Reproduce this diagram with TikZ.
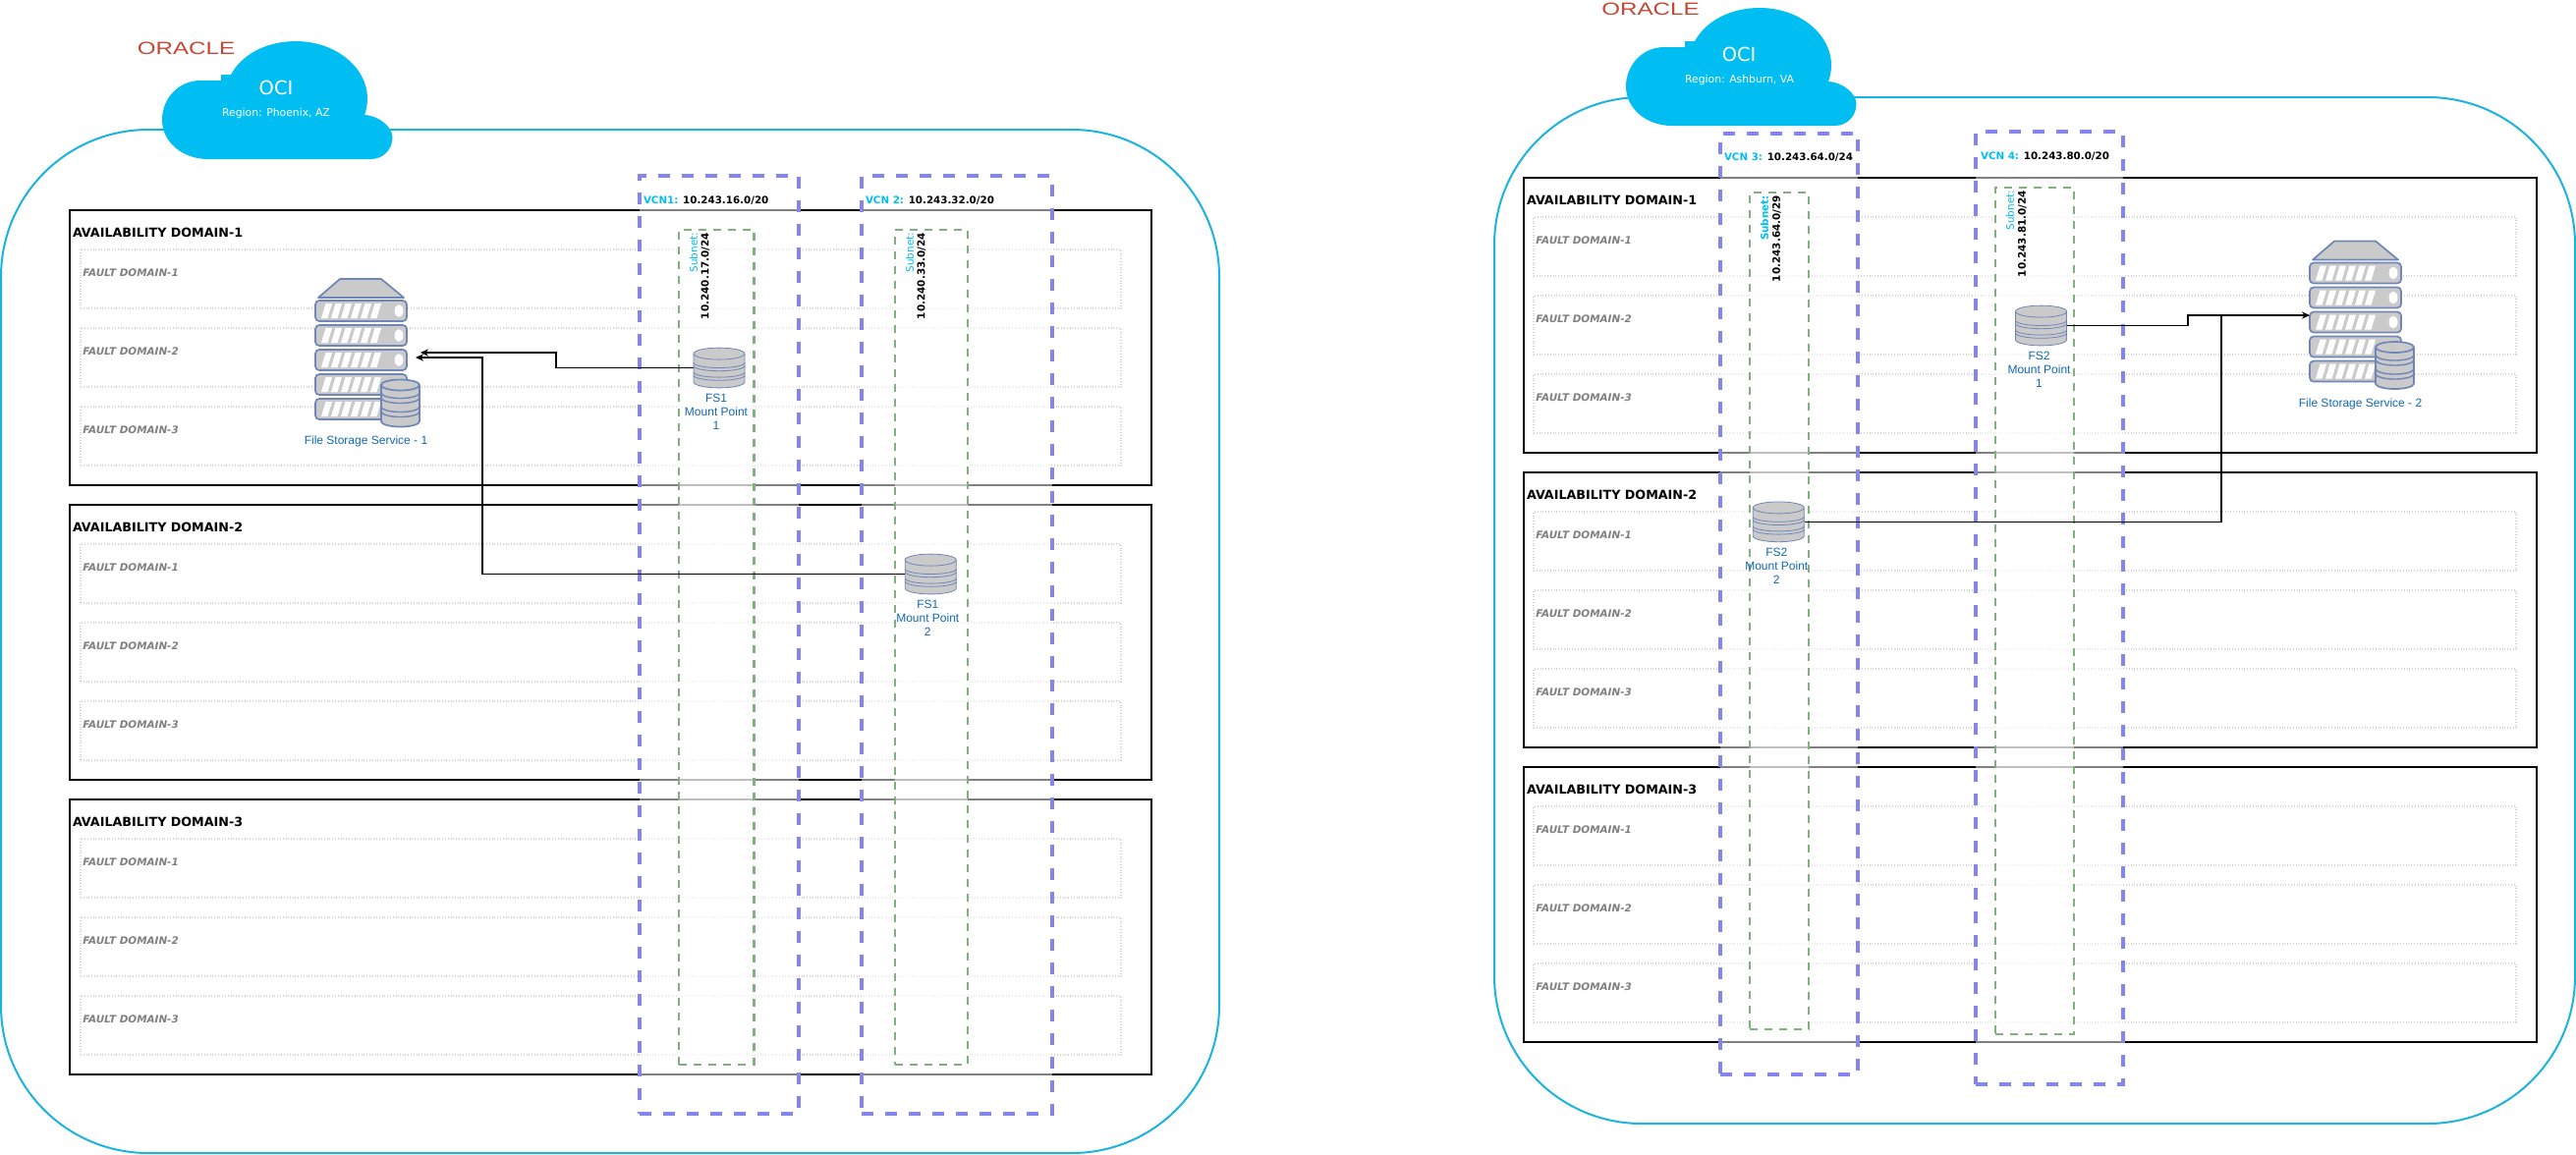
\documentclass[tikz,border=0pt]{standalone}
\usepackage{fontspec}
\setmainfont{DejaVu Sans}
\newfontfamily\arialfont{Liberation Sans}
\usetikzlibrary{arrows.meta, positioning}

\definecolor{ocicyan}{HTML}{00BEF2}
\definecolor{regionline}{HTML}{1CB4DF}
\definecolor{vcnline}{HTML}{8585F2}
\definecolor{subnetline}{HTML}{82B07F}
\definecolor{iconline}{HTML}{7086B8}
\definecolor{iconfill}{HTML}{CACACA}
\definecolor{mountblue}{HTML}{1268B3}
\definecolor{oraclered}{HTML}{C74634}

\begin{document}
\begin{tikzpicture}[
    x=0.5pt, y=-0.5pt,
    every node/.style={inner sep=0pt, outer sep=0pt},
    regionbox/.style={draw=regionline, line width=1pt, rounded corners=75pt},
    adbox/.style={draw=black, line width=1pt},
    phxad/.style={adbox, minimum width=550.5pt, minimum height=140pt},
    ashad/.style={adbox, minimum width=515.5pt, minimum height=140pt},
    adlabel/.style={font=\fontsize{6.35}{7}\selectfont\bfseries, anchor=west, xshift=1.5pt, yshift=-11.5pt},
    faultbox/.style={draw=black!17, line width=0.6pt, dash pattern=on 0.5pt off 0.9pt, minimum height=30pt},
    phxfault/.style={faultbox, minimum width=529.5pt},
    ashfault/.style={faultbox, minimum width=500pt},
    faultlabel/.style={font=\fontsize{5.2}{6}\selectfont\bfseries\itshape, text=black!50, anchor=west, xshift=1.2pt, yshift=-12pt},
    vcnbox/.style={draw=vcnline, line width=2pt, dash pattern=on 6pt off 6pt, fill=white, fill opacity=0.5},
    subnetbox/.style={draw=subnetline, line width=1.3pt, dash pattern=on 4pt off 3.5pt, fill=white, fill opacity=0.5},
    vcnlabel/.style={font=\fontsize{5.15}{6}\selectfont\bfseries, anchor=west},
    subnetlabel/.style={font=\fontsize{5.2}{6}\selectfont, text=ocicyan, rotate=90, anchor=east},
    subnetaddr/.style={font=\fontsize{5.2}{6}\selectfont\bfseries, rotate=90, anchor=east},
    mountdb/.style={minimum width=26.4pt, minimum height=20.8pt,
        path picture={
            \begin{scope}[shift={(path picture bounding box.center)}, iconline, line width=0.4pt]
                \draw[fill=iconfill] (-13pt,7.2pt) -- (-13pt,-7.2pt)
                    arc[start angle=180, end angle=360, x radius=13pt, y radius=3pt] -- (13pt,7.2pt)
                    arc[start angle=0, end angle=180, x radius=13pt, y radius=3pt] -- cycle;
                \draw (-13pt,7.2pt) arc[start angle=180, end angle=360, x radius=13pt, y radius=3pt];
                \draw (-13pt,2.6pt) arc[start angle=180, end angle=360, x radius=13pt, y radius=2.6pt];
                \draw (-13pt,1pt) arc[start angle=180, end angle=360, x radius=13pt, y radius=2.6pt];
                \draw (-13pt,-2.2pt) arc[start angle=180, end angle=360, x radius=13pt, y radius=2.6pt];
                \draw (-13pt,-3.8pt) arc[start angle=180, end angle=360, x radius=13pt, y radius=2.6pt];
            \end{scope}
        }},
    mountlabel/.style={font=\arialfont\fontsize{6}{7}\selectfont, text=mountblue, align=center},
    link/.style={-{Stealth[length=4pt, width=3.6pt]}, line width=0.55pt},
    ocicloud/.pic={
        \fill[ocicyan] (47,120) .. controls (20,120) and (0,102) .. (0,80)
            .. controls (0,58) and (17,40) .. (39,40) -- (60,40) -- (60,34) -- (70,34)
            .. controls (82,12) and (108,0) .. (136,0)
            .. controls (178,0) and (209,28) .. (209,58)
            .. controls (209,64) and (208,70) .. (206,75)
            .. controls (222,76) and (234.5,88) .. (234.5,98)
            .. controls (234.5,110) and (225,120) .. (212.5,120) -- cycle;
    },
    storageserver/.pic={
        \draw[iconline, line width=0.85pt, fill=iconfill, line join=round] (3,19) -- (25,0) -- (67,0) -- (90,19) -- cycle;
        \foreach \y in {22,47,72,97,122} {
            \draw[iconline, line width=0.85pt, fill=iconfill, rounded corners=2pt] (0,\y) rectangle (93,\y+21);
            \foreach \x in {6,16,26,36,46,56}
                \fill[white] (\x,\y+18) -- (\x+6.5,\y+18) -- (\x+11,\y+3) -- (\x+4.5,\y+3) -- cycle;
            \fill[white] (85,\y+10.5) ellipse[x radius=2.2pt, y radius=3.2pt];
        }
        \draw[iconline, line width=0.85pt, fill=iconfill] (67,108) -- (67,145)
            arc[start angle=180, end angle=360, x radius=9.75pt, y radius=2.75pt] -- (106,108)
            arc[start angle=0, end angle=180, x radius=9.75pt, y radius=2.75pt] -- cycle;
        \draw[iconline, line width=0.85pt] (67,108) arc[start angle=180, end angle=360, x radius=9.75pt, y radius=2.75pt];
        \draw[iconline, line width=0.7pt] (67,116) arc[start angle=180, end angle=360, x radius=9.75pt, y radius=2.75pt];
        \draw[iconline, line width=0.7pt] (67,121) arc[start angle=180, end angle=360, x radius=9.75pt, y radius=2.75pt];
        \draw[iconline, line width=0.7pt] (67,130) arc[start angle=180, end angle=360, x radius=9.75pt, y radius=2.75pt];
        \draw[iconline, line width=0.7pt] (67,135) arc[start angle=180, end angle=360, x radius=9.75pt, y radius=2.75pt];
    }
]

\path[use as bounding box, fill=white] (0,0) rectangle (2622,1175);

% Phoenix
\node[regionbox, minimum width=620pt, minimum height=521pt] (phx) at (621,653) {};
\pic at (165,42) {ocicloud};
\node[text=oraclered, font=\arialfont\fontsize{9}{10}\selectfont] (phxoracle) at (189.5,49.5) {\scalebox{1.34}[1]{ORACLE}};
\node[text=white, font=\fontsize{9.7}{11}\selectfont] (phxoci) at (281,89) {OCI};
\node[text=white, font=\fontsize{5.4}{6}\selectfont] (phxname) at (281,116) {Region: Phoenix, AZ};

\node[phxad] (phxad1) at (621.5,354) {};
\node[adlabel] (phxad1t) at (phxad1.north west) {AVAILABILITY DOMAIN-1};
\node[phxfault] (phxad1f1) at (611.5,284) {};
\node[faultlabel] (phxad1f1t) at (phxad1f1.north west) {FAULT DOMAIN-1};
\node[phxfault] (phxad1f2) at (611.5,364) {};
\node[faultlabel] (phxad1f2t) at (phxad1f2.north west) {FAULT DOMAIN-2};
\node[phxfault] (phxad1f3) at (611.5,444) {};
\node[faultlabel] (phxad1f3t) at (phxad1f3.north west) {FAULT DOMAIN-3};

\node[phxad] (phxad2) at (621.5,654) {};
\node[adlabel] (phxad2t) at (phxad2.north west) {AVAILABILITY DOMAIN-2};
\node[phxfault] (phxad2f1) at (611.5,584) {};
\node[faultlabel] (phxad2f1t) at (phxad2f1.north west) {FAULT DOMAIN-1};
\node[phxfault] (phxad2f2) at (611.5,664) {};
\node[faultlabel] (phxad2f2t) at (phxad2f2.north west) {FAULT DOMAIN-2};
\node[phxfault] (phxad2f3) at (611.5,744) {};
\node[faultlabel] (phxad2f3t) at (phxad2f3.north west) {FAULT DOMAIN-3};

\node[phxad] (phxad3) at (621.5,954) {};
\node[adlabel] (phxad3t) at (phxad3.north west) {AVAILABILITY DOMAIN-3};
\node[phxfault] (phxad3f1) at (611.5,884) {};
\node[faultlabel] (phxad3f1t) at (phxad3f1.north west) {FAULT DOMAIN-1};
\node[phxfault] (phxad3f2) at (611.5,964) {};
\node[faultlabel] (phxad3f2t) at (phxad3f2.north west) {FAULT DOMAIN-2};
\node[phxfault] (phxad3f3) at (611.5,1044) {};
\node[faultlabel] (phxad3f3t) at (phxad3f3.north west) {FAULT DOMAIN-3};

\node[vcnbox, minimum width=81pt, minimum height=477.5pt] (vcn1) at (732,656.5) {};
\node[vcnbox, minimum width=97pt, minimum height=477.5pt] (vcn2) at (974,656.5) {};
\node[subnetbox, minimum width=38.2pt, minimum height=425pt] (sub1) at (729.2,659) {};
\node[subnetbox, minimum width=37pt, minimum height=425pt] (sub2) at (948,659) {};
\node[vcnlabel] (vcn1t) at (655,204) {\textcolor{ocicyan}{VCN1:} 10.243.16.0/20};
\node[vcnlabel] (vcn2t) at (881,204) {\textcolor{ocicyan}{VCN 2:} 10.243.32.0/20};
\node[subnetlabel] (sub1t) at (706,237) {Subnet:};
\node[subnetaddr] (sub1a) at (718,237) {10.240.17.0/24};
\node[subnetlabel] (sub2t) at (926,237) {Subnet:};
\node[subnetaddr] (sub2a) at (938,237) {10.240.33.0/24};

\pic at (321,284) {storageserver};
\node[mountlabel] (fss1t) at (372.5,449) {File Storage Service - 1};
\coordinate (fss1in) at (428,359);
\coordinate (fss1low) at (423,364);

\node[mountdb] (fs1a) at (732,374.5) {};
\node[mountlabel, below=3pt of fs1a, xshift=-1.5pt] (fs1at) {FS1\\Mount Point\\1};
\node[mountdb] (fs1b) at (947.3,584.5) {};
\node[mountlabel, below=3pt of fs1b, xshift=-1.5pt] (fs1bt) {FS1\\Mount Point\\2};

\coordinate (bend1) at (566,359);
\coordinate (bend2) at (491,364);
\draw[link] (fs1a.west) -| (bend1) -- (fss1in);
\draw[link] (fs1b.west) -| (bend2) -- (fss1low);

% Ashburn
\node[regionbox, minimum width=550pt, minimum height=522.5pt] (ash) at (2071,621.5) {};
\pic at (1655,8) {ocicloud};
\node[text=oraclered, font=\arialfont\fontsize{9}{10}\selectfont] (ashoracle) at (1680,9) {\scalebox{1.34}[1]{ORACLE}};
\node[text=white, font=\fontsize{9.7}{11}\selectfont] (ashoci) at (1770,55) {OCI};
\node[text=white, font=\fontsize{5.4}{6}\selectfont] (ashname) at (1770.5,82) {Region: Ashburn, VA};

\node[ashad] (ashad1) at (2066.5,321) {};
\node[adlabel] (ashad1t) at (ashad1.north west) {AVAILABILITY DOMAIN-1};
\node[ashfault] (ashad1f1) at (2061,251) {};
\node[faultlabel] (ashad1f1t) at (ashad1f1.north west) {FAULT DOMAIN-1};
\node[ashfault] (ashad1f2) at (2061,331) {};
\node[faultlabel] (ashad1f2t) at (ashad1f2.north west) {FAULT DOMAIN-2};
\node[ashfault] (ashad1f3) at (2061,411) {};
\node[faultlabel] (ashad1f3t) at (ashad1f3.north west) {FAULT DOMAIN-3};

\node[ashad] (ashad2) at (2066.5,621) {};
\node[adlabel] (ashad2t) at (ashad2.north west) {AVAILABILITY DOMAIN-2};
\node[ashfault] (ashad2f1) at (2061,551) {};
\node[faultlabel] (ashad2f1t) at (ashad2f1.north west) {FAULT DOMAIN-1};
\node[ashfault] (ashad2f2) at (2061,631) {};
\node[faultlabel] (ashad2f2t) at (ashad2f2.north west) {FAULT DOMAIN-2};
\node[ashfault] (ashad2f3) at (2061,711) {};
\node[faultlabel] (ashad2f3t) at (ashad2f3.north west) {FAULT DOMAIN-3};

\node[ashad] (ashad3) at (2066.5,921) {};
\node[adlabel] (ashad3t) at (ashad3.north west) {AVAILABILITY DOMAIN-3};
\node[ashfault] (ashad3f1) at (2061,851) {};
\node[faultlabel] (ashad3f1t) at (ashad3f1.north west) {FAULT DOMAIN-1};
\node[ashfault] (ashad3f2) at (2061,931) {};
\node[faultlabel] (ashad3f2t) at (ashad3f2.north west) {FAULT DOMAIN-2};
\node[ashfault] (ashad3f3) at (2061,1011) {};
\node[faultlabel] (ashad3f3t) at (ashad3f3.north west) {FAULT DOMAIN-3};

\node[vcnbox, minimum width=70.2pt, minimum height=479pt] (vcn3) at (1821.2,615) {};
\node[vcnbox, minimum width=75pt, minimum height=485pt] (vcn4) at (2086,618.6) {};
\node[subnetbox, minimum width=30pt, minimum height=426pt] (sub3) at (1811,622) {};
\node[subnetbox, minimum width=40pt, minimum height=431pt] (sub4) at (2071,622) {};
\node[vcnlabel] (vcn3t) at (1755,160) {\textcolor{ocicyan}{VCN 3:} 10.243.64.0/24};
\node[vcnlabel] (vcn4t) at (2016,159) {\textcolor{ocicyan}{VCN 4:} 10.243.80.0/20};
\node[subnetlabel, font=\fontsize{5.2}{6}\selectfont\bfseries] (sub3t) at (1796,199) {Subnet:};
\node[subnetaddr] (sub3a) at (1808.5,199) {10.243.64.0/29};
\node[subnetlabel] (sub4t) at (2046,194) {Subnet:};
\node[subnetaddr] (sub4a) at (2058.5,194) {10.243.81.0/24};

\pic at (2351,245.5) {storageserver};
\node[mountlabel] (fss2t) at (2402.5,411) {File Storage Service - 2};
\coordinate (fss2in) at (2351,321);

\node[mountdb] (fs2a) at (2077.5,331.5) {};
\node[mountlabel, below=3pt of fs2a, xshift=-1pt] (fs2at) {FS2\\Mount Point\\1};
\node[mountdb] (fs2b) at (1810.3,531.3) {};
\node[mountlabel, below=3pt of fs2b, xshift=-1pt] (fs2bt) {FS2\\Mount Point\\2};

\coordinate (bend3) at (2227,321);
\coordinate (bend4) at (2261,321);
\draw[link] (fs2a.east) -| (bend3) -- (fss2in);
\draw[line width=0.55pt] (fs2b.east) -| (bend4);

\end{tikzpicture}
\end{document}
